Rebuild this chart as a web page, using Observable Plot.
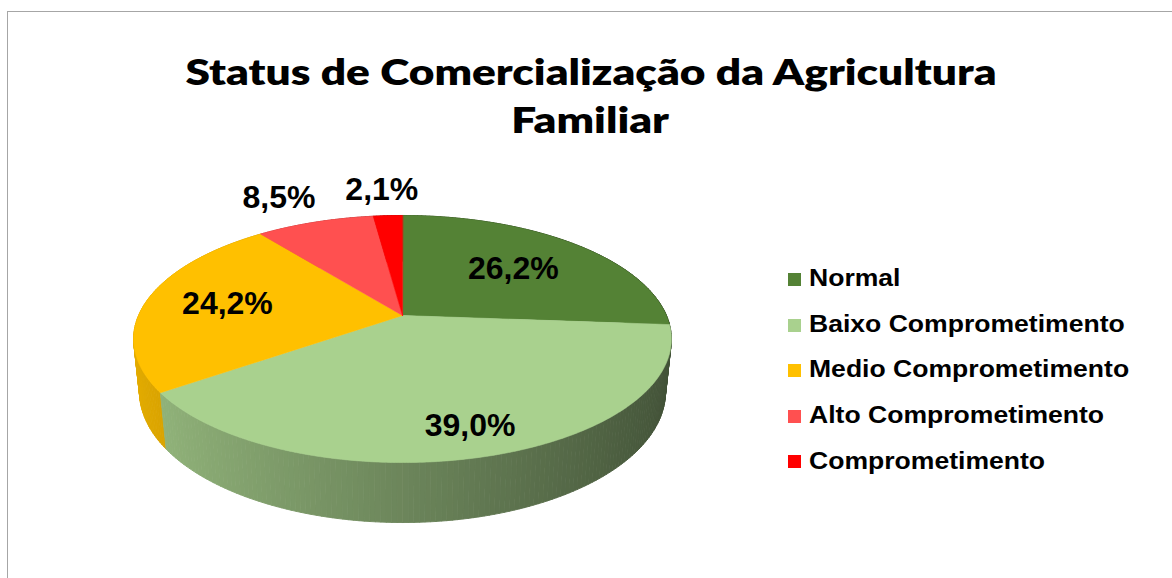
<!DOCTYPE html>
<html><head><meta charset="utf-8">
<script src="https://cdn.jsdelivr.net/npm/d3@7"></script>
<script src="https://cdn.jsdelivr.net/npm/@observablehq/plot@0.6"></script>
<style>
html,body{margin:0;padding:0;background:#fff;overflow:hidden;}
#wrap{position:relative;width:1172px;height:578px;overflow:hidden;background:#fff;}
#frame{position:absolute;left:7px;top:11px;width:1300px;height:700px;border:1px solid #a6a6a6;box-sizing:border-box;}
#chart{position:absolute;left:0;top:0;}
.tline{position:absolute;width:1172px;text-align:center;font-family:Lato,"Open Sans",sans-serif;font-weight:800;color:#000;white-space:nowrap;}
.tline span{display:inline-block;transform-origin:center;}
.sw{position:absolute;left:788px;width:13px;height:13px;}
.lt{position:absolute;left:809px;font-family:"Liberation Sans",Arial,sans-serif;font-weight:700;color:#000;white-space:nowrap;transform-origin:left center;}
</style></head><body>
<div id="wrap">
  <div id="frame"></div>
  <div id="chart"></div>
  <div class="tline" id="t1"><span></span></div>
  <div class="tline" id="t2"><span></span></div>
  <div id="legend"></div>
</div>
<script>
// ---- data ----
const titleLines = ["Status de Comercialização da Agricultura", "Familiar"];
const categories = ["Normal", "Baixo Comprometimento", "Medio Comprometimento", "Alto Comprometimento", "Comprometimento"];
const values = [26.2, 39.0, 24.2, 8.5, 2.1];
const colors = ["#548235", "#a9d18e", "#ffc000", "#ff5050", "#ff0000"];

// ---- layout ----
const W = 1172, H = 578;
const CX = 402, CY = 315, F = 1238, DCAM = 4.69, SPHI = 0.451, CPHI = 0.893, THICK = 0.225;

function proj(theta, r, hgt) {
  const X = r * Math.sin(theta), Yg = -r * Math.cos(theta);
  const yc = -Yg * SPHI + hgt * CPHI;
  const zc = DCAM - Yg * CPHI - hgt * SPHI;
  return [CX + F * X / zc, CY - F * yc / zc, zc];
}
function shade(col, X) {
  const k = 0.9 - 0.52 * (X + 1) / 2;
  const c = d3.rgb(col);
  return d3.rgb(c.r * k, c.g * k, c.b * k).formatHex();
}
const locale = d3.formatLocale({decimal: ",", thousands: ".", grouping: [3], currency: ["R$", ""]});
const fmt = v => locale.format(".1f")(v) + "%";

const total = d3.sum(values);
let acc = 0;
const slices = values.map((v, i) => {
  const a0 = acc / total * 2 * Math.PI; acc += v;
  const a1 = acc / total * 2 * Math.PI;
  return {i, v, a0, a1, color: colors[i]};
});

// side wall quads, painter's order
const step = Math.PI / 180;
const quads = [];
for (const s of slices) {
  const n = Math.max(1, Math.ceil((s.a1 - s.a0) / step));
  for (let j = 0; j < n; j++) {
    const t0 = s.a0 + (s.a1 - s.a0) * j / n, t1 = s.a0 + (s.a1 - s.a0) * (j + 1) / n, tm = (t0 + t1) / 2;
    quads.push({t0, t1, depth: proj(tm, 1, -THICK / 2)[2], color: shade(s.color, Math.sin(tm))});
  }
}
quads.sort((a, b) => b.depth - a.depth);
const sidePts = [];
quads.forEach((q, k) => {
  [proj(q.t0, 1, 0), proj(q.t1, 1, 0), proj(q.t1, 1, -THICK), proj(q.t0, 1, -THICK)]
    .forEach(p => sidePts.push({id: k, x: p[0], y: p[1], fill: q.color}));
});

// top faces
const topPts = [];
slices.forEach(s => {
  const c0 = proj(0, 0, 0);
  topPts.push({id: s.i, x: c0[0], y: c0[1], fill: s.color});
  const n = Math.max(2, Math.ceil((s.a1 - s.a0) / (step / 2)));
  for (let j = 0; j <= n; j++) {
    const p = proj(s.a0 + (s.a1 - s.a0) * j / n, 1, 0);
    topPts.push({id: s.i, x: p[0], y: p[1], fill: s.color});
  }
});

// labels: inside for big slices (pushed out toward the front), outside for small ones
const labelData = slices.map(s => {
  const tm = (s.a0 + s.a1) / 2;
  const outside = s.v / total < 0.1;
  const r = outside ? 1.32 : 0.7 - 0.12 * Math.cos(tm);
  const p = proj(tm, r, 0);
  return {x: p[0] + (outside ? Math.sin(tm) * 35 : 0), y: p[1], text: fmt(s.v)};
});

const chart = Plot.plot({
  width: W, height: H, margin: 0,
  style: {background: "transparent"},
  x: {domain: [0, W], range: [0, W], axis: null},
  y: {domain: [0, H], range: [0, H], axis: null},
  color: {type: "identity"},
  marks: [
    Plot.line(sidePts, {x: "x", y: "y", z: "id", fill: "fill", stroke: "fill", strokeWidth: 0.9, curve: "linear-closed"}),
    Plot.line(topPts, {x: "x", y: "y", z: "id", fill: "fill", stroke: "fill", strokeWidth: 0.6, curve: "linear-closed"}),
    Plot.text(labelData, {x: "x", y: "y", text: "text", fontSize: 32, fontWeight: "bold",
      fontFamily: "'Liberation Sans', Arial, sans-serif", fill: "#000"})
  ]
});
document.getElementById("chart").appendChild(chart);

// title
const TF = 36;
const t1 = document.getElementById("t1"), t2 = document.getElementById("t2");
[t1, t2].forEach((el, i) => {
  el.style.fontSize = TF + "px";
  el.style.lineHeight = TF + "px";
  el.querySelector("span").textContent = titleLines[i];
});
t1.style.left = "5px"; t1.style.top = (85 - 0.887 * TF) + "px";
t2.style.left = "4px"; t2.style.top = (133 - 0.887 * TF) + "px";
const w1 = t1.querySelector("span").getBoundingClientRect().width;
const kx = 811 / w1;
[t1, t2].forEach(el => el.querySelector("span").style.transform = `scaleX(${kx})`);

// legend
const LF = 23.5;
const legend = document.getElementById("legend");
categories.forEach((cat, i) => {
  const base = 287 + i * 45.6;
  const sw = document.createElement("div");
  sw.className = "sw"; sw.style.top = (base - 14) + "px"; sw.style.background = colors[i];
  const tx = document.createElement("div");
  tx.className = "lt"; tx.textContent = cat;
  tx.style.fontSize = LF + "px"; tx.style.lineHeight = LF + "px";
  tx.style.top = (base - 0.8465 * LF) + "px";
  tx.style.transform = "scaleX(1.13)";
  legend.appendChild(sw); legend.appendChild(tx);
});
</script>
</body></html>
